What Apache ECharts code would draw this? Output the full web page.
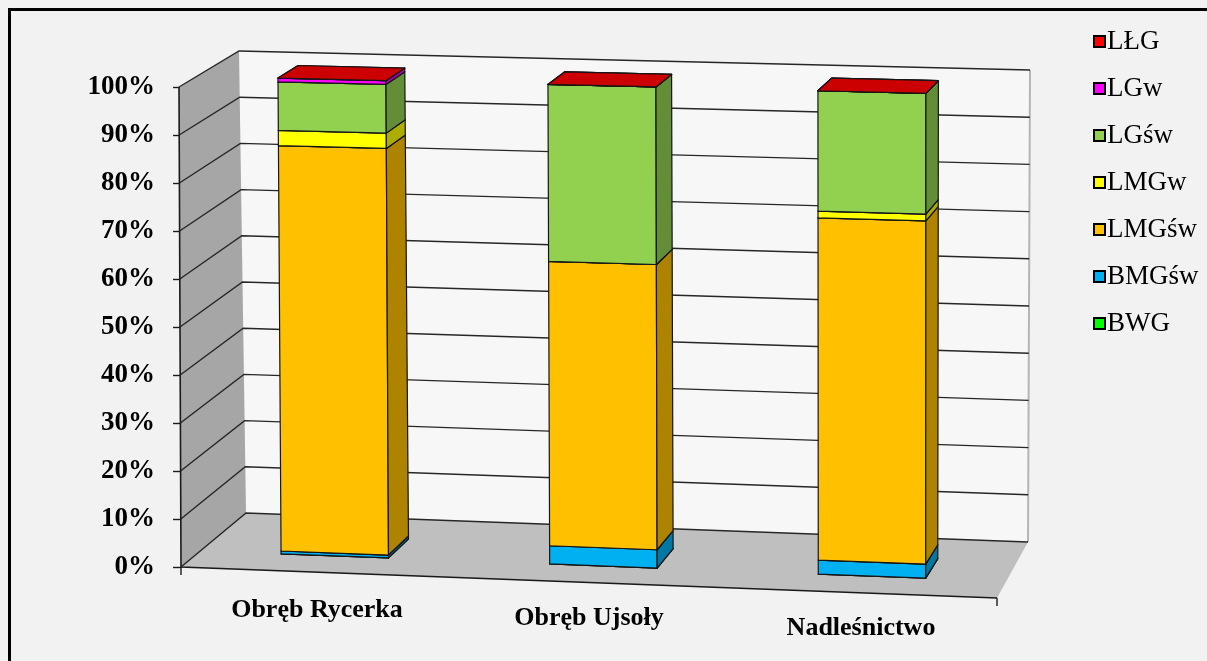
<!DOCTYPE html>
<html>
<head>
<meta charset="utf-8">
<script src="https://cdn.jsdelivr.net/npm/echarts@6/dist/echarts.min.js"></script>
<style>
  html, body { margin: 0; padding: 0; background: #f2f2f2; }
  #chart { position: absolute; left: 0; top: 0; width: 1207px; height: 661px; }
  #frame { position: absolute; left: 8px; top: 8px; width: 1230px; height: 690px;
           border: 3px solid #000; pointer-events: none; }
</style>
</head>
<body>
<div id="chart"></div>
<div id="frame"></div>
<script>
// udział procentowy typów siedliskowych lasu
const categories = ['Obręb Rycerka', 'Obręb Ujsoły', 'Nadleśnictwo'];
const seriesNames = ['BWG', 'BMGśw', 'LMGśw', 'LMGw', 'LGśw', 'LGw', 'LŁG'];
const bwg   = [0, 0, 0];
const bmgsw = [0.6, 3.8, 2.9];
const lmgsw = [85.2, 59.3, 70.8];
const lmgw  = [3.2, 0, 1.4];
const lgsw  = [10.2, 36.9, 24.9];
const lgw   = [0.8, 0, 0];
const llg   = [0, 0, 0];
const yTicks = [0, 10, 20, 30, 40, 50, 60, 70, 80, 90, 100];

const seriesValues = [bwg, bmgsw, lmgsw, lmgw, lgsw, lgw, llg];
const seriesColors = ['#00ff00', '#00b0f0', '#ffc000', '#ffff00', '#92d050', '#ff00ff', '#ff0000'];

// perspective of the excel 3d box, relative to the grid rect
const view = {
  dropTopRight: 19, dropBottomRight: 31, shiftTopLeft: -2,
  back00: [65, -54], back10: [31, -56], back01: [60, -36], back11: [33, -36],
  barFront: 0.3, barBack: 0.65, barWidth: 0.4
};

function makeWarp(rect) {
  const x0 = rect.x, x1 = rect.x + rect.width, yT = rect.y, yB = rect.y + rect.height;
  const f00 = [x0, yB], f10 = [x1, yB + view.dropBottomRight];
  const f01 = [x0 + view.shiftTopLeft, yT], f11 = [x1, yT + view.dropTopRight];
  const add = (p, d) => [p[0] + d[0], p[1] + d[1]];
  const b00 = add(f00, view.back00), b10 = add(f10, view.back10);
  const b01 = add(f01, view.back01), b11 = add(f11, view.back11);
  const bil = (a, b, c, d, u, t) => {
    const bx = a[0] + (b[0] - a[0]) * u, by = a[1] + (b[1] - a[1]) * u;
    const tx = c[0] + (d[0] - c[0]) * u, ty = c[1] + (d[1] - c[1]) * u;
    return [bx + (tx - bx) * t, by + (ty - by) * t];
  };
  return function (px, py, w) {
    const u = (px - x0) / rect.width;
    const t = (yB - py) / rect.height;
    const f = bil(f00, f10, f01, f11, u, t);
    const b = bil(b00, b10, b01, b11, u, t);
    return [f[0] + (b[0] - f[0]) * w, f[1] + (b[1] - f[1]) * w];
  };
}

function shade(hex, k) {
  const n = parseInt(hex.slice(1), 16);
  const r = Math.round(((n >> 16) & 255) * k), g = Math.round(((n >> 8) & 255) * k), b = Math.round((n & 255) * k);
  return 'rgb(' + r + ',' + g + ',' + b + ')';
}

function renderWalls(params, api) {
  const rect = params.coordSys;
  const warp = makeWarp(rect);
  const x0 = rect.x, x1 = rect.x + rect.width;
  const yb = api.coord([0, 0])[1], yt = api.coord([0, 100])[1];
  const children = [];
  children.push({ type: 'polygon', shape: { points: [warp(x0, yb, 1), warp(x1, yb, 1), warp(x1, yt, 1), warp(x0, yt, 1)] },
    style: { fill: '#f7f7f7', stroke: null } });
  children.push({ type: 'polygon', shape: { points: [warp(x0, yb, 0), warp(x0, yb, 1), warp(x0, yt, 1), warp(x0, yt, 0)] },
    style: { fill: '#a6a6a6', stroke: null } });
  children.push({ type: 'polygon', shape: { points: [warp(x0, yb, 0), warp(x1, yb, 0), warp(x1, yb, 1), warp(x0, yb, 1)] },
    style: { fill: '#bfbfbf', stroke: null } });
  children.push({ type: 'line', shape: { x1: warp(x1, yb, 1)[0], y1: warp(x1, yb, 1)[1], x2: warp(x1, yt, 1)[0], y2: warp(x1, yt, 1)[1] },
    style: { stroke: '#b5b5b5', lineWidth: 2 } });
  yTicks.forEach(function (v) {
    const y = api.coord([0, v])[1];
    children.push({ type: 'polyline', shape: { points: [warp(x0, y, 0), warp(x0, y, 1), warp(x1, y, 1)] },
      style: { stroke: '#262626', lineWidth: 1.4, fill: null } });
  });
  // axis edges
  children.push({ type: 'polyline', shape: { points: [warp(x0, yt, 0), warp(x0, yb, 0), warp(x1, yb, 0)] },
    style: { stroke: '#1a1a1a', lineWidth: 1.6, fill: null } });
  [x0, x1].forEach(function (x) {
    const p = warp(x, yb, 0);
    children.push({ type: 'line', shape: { x1: p[0], y1: p[1], x2: p[0], y2: p[1] + 8 },
      style: { stroke: '#1a1a1a', lineWidth: 1.4 } });
  });
  return { type: 'group', children: children };
}

function makeBarRenderer(color) {
  return function (params, api) {
    const rect = params.coordSys;
    const warp = makeWarp(rect);
    const cx = api.coord([api.value(0), 0])[0];
    const band = api.size([1, 0])[0];
    const L = cx - band * view.barWidth / 2, R = cx + band * view.barWidth / 2;
    const yb = api.coord([api.value(0), api.value(1)])[1];
    const yt = api.coord([api.value(0), api.value(2)])[1];
    const wf = view.barFront, wb = view.barBack;
    const edge = { stroke: '#151515', lineWidth: 1.2, lineJoin: 'round' };
    return {
      type: 'group',
      children: [
        { type: 'polygon', shape: { points: [warp(L, yb, wf), warp(R, yb, wf), warp(R, yt, wf), warp(L, yt, wf)] },
          style: Object.assign({ fill: color }, edge) },
        { type: 'polygon', shape: { points: [warp(R, yb, wf), warp(R, yb, wb), warp(R, yt, wb), warp(R, yt, wf)] },
          style: Object.assign({ fill: shade(color, 0.68) }, edge) },
        { type: 'polygon', shape: { points: [warp(L, yt, wf), warp(R, yt, wf), warp(R, yt, wb), warp(L, yt, wb)] },
          style: Object.assign({ fill: shade(color, 0.8) }, edge) }
      ]
    };
  };
}

const base = [0, 0, 0];
const barSeries = seriesNames.map(function (name, si) {
  const data = categories.map(function (c, ci) {
    const from = base[ci];
    const to = from + seriesValues[si][ci];
    base[ci] = to;
    return [ci, from, to];
  });
  return {
    name: name,
    type: 'custom',
    coordinateSystem: 'cartesian2d',
    renderItem: makeBarRenderer(seriesColors[si]),
    itemStyle: { color: seriesColors[si] },
    encode: { x: 0, y: 2 },
    clip: false,
    z: 3,
    data: data
  };
});

const chart = echarts.init(document.getElementById('chart'));
chart.setOption({
  animation: false,
  backgroundColor: '#f2f2f2',
  grid: { left: 181, right: 210, top: 87, bottom: 94 },
  legend: {
    data: seriesNames.slice().reverse(),
    orient: 'vertical',
    left: 1088,
    top: 23,
    icon: 'rect',
    itemWidth: 11,
    itemHeight: 11,
    itemGap: 20,
    itemStyle: { borderColor: '#000', borderWidth: 2 },
    textStyle: { fontFamily: 'Liberation Serif', fontSize: 27, color: '#000', padding: [0, 0, 0, -3] }
  },
  xAxis: {
    type: 'category',
    data: [
      { value: categories[0], textStyle: { padding: [0, 0, 0, 0] } },
      { value: categories[1], textStyle: { padding: [8, 0, 0, 0] } },
      { value: categories[2], textStyle: { padding: [18, 0, 0, 0] } }
    ],
    axisLine: { show: false },
    axisTick: { show: false },
    splitLine: { show: false },
    axisLabel: { margin: 30, fontFamily: 'Liberation Serif', fontWeight: 'bold', fontSize: 26, color: '#000' }
  },
  yAxis: {
    type: 'value',
    min: 0,
    max: 100,
    interval: 10,
    axisLine: { show: false },
    axisTick: { show: true, length: 8, lineStyle: { color: '#1a1a1a', width: 1.4 } },
    splitLine: { show: false },
    axisLabel: { margin: 26, formatter: '{value}%', fontFamily: 'Liberation Serif', fontWeight: 'bold', fontSize: 27, color: '#000' }
  },
  series: [{
    type: 'custom',
    coordinateSystem: 'cartesian2d',
    renderItem: renderWalls,
    data: [[0, 0]],
    clip: false,
    silent: true,
    z: 1
  }].concat(barSeries)
});
</script>
</body>
</html>
